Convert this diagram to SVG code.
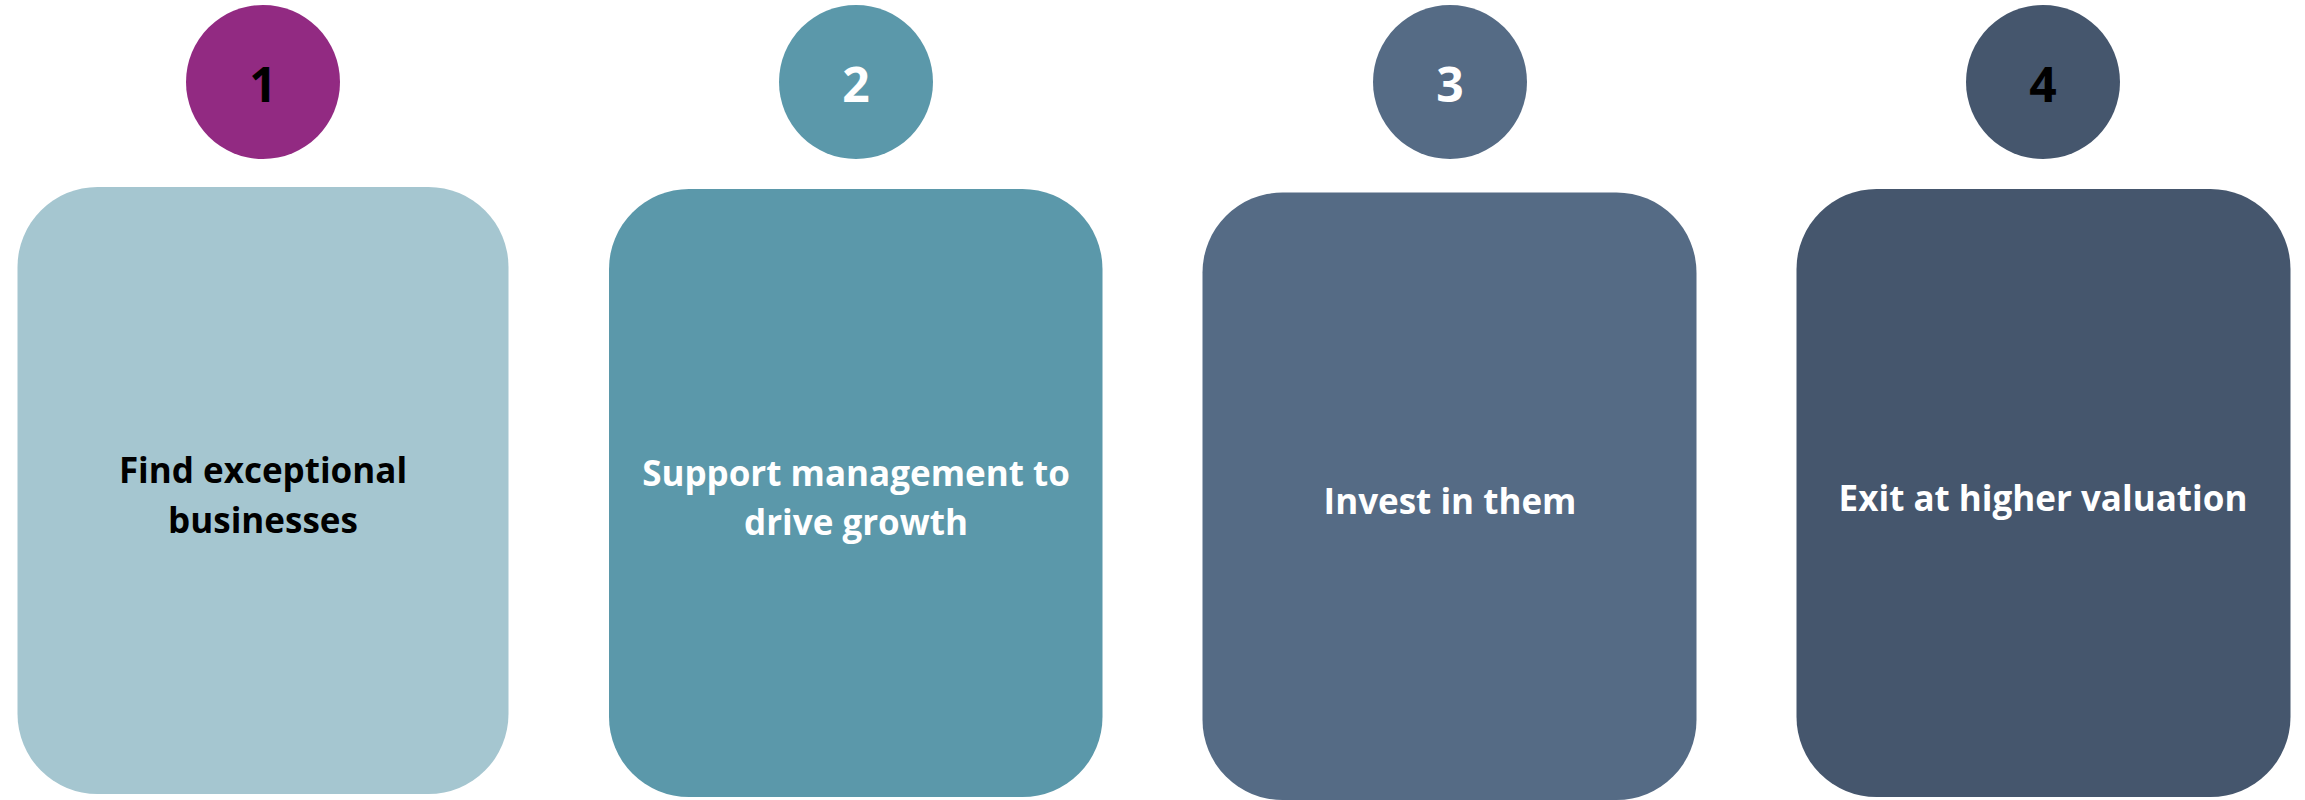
<svg xmlns="http://www.w3.org/2000/svg" width="2305" height="800" viewBox="0 0 2305 800">
<style>
.lbl{font-family:"Open Sans","Liberation Sans",sans-serif;font-weight:bold;font-size:35px;text-anchor:middle}
.num{font-family:"Open Sans","Liberation Sans",sans-serif;font-weight:bold;font-size:48px;text-anchor:middle}
.dark{fill:#000000}
.light{fill:#ffffff}
</style>
<rect width="2305" height="800" fill="#ffffff"/>
<g id="step1">
<circle cx="263" cy="82" r="77" fill="#922a82"/>
<text class="num dark" x="263" y="102">1</text>
<rect x="17.5" y="187" width="491" height="607" rx="80" ry="80" fill="#a5c6d0"/>
<text class="lbl dark" x="263" y="483">Find exceptional</text>
<text class="lbl dark" x="263" y="533">businesses</text>
</g>
<g id="step2">
<circle cx="856" cy="82" r="77" fill="#5b98aa"/>
<text class="num light" x="856" y="102">2</text>
<rect x="609" y="189" width="493.5" height="608" rx="80" ry="80" fill="#5b98aa"/>
<text class="lbl light" x="856" y="486">Support management to</text>
<text class="lbl light" x="856" y="535">drive growth</text>
</g>
<g id="step3">
<circle cx="1450" cy="82" r="77" fill="#556b85"/>
<text class="num light" x="1450" y="102">3</text>
<rect x="1202.5" y="192.5" width="494" height="607.5" rx="80" ry="80" fill="#556b85"/>
<text class="lbl light" x="1450" y="514">Invest in them</text>
</g>
<g id="step4">
<circle cx="2043" cy="82" r="77" fill="#45566d"/>
<text class="num dark" x="2043" y="102">4</text>
<rect x="1796.5" y="189" width="494" height="608" rx="80" ry="80" fill="#45566d"/>
<text class="lbl light" x="2043" y="511">Exit at higher valuation</text>
</g>
<g id="connectors"></g>
</svg>
